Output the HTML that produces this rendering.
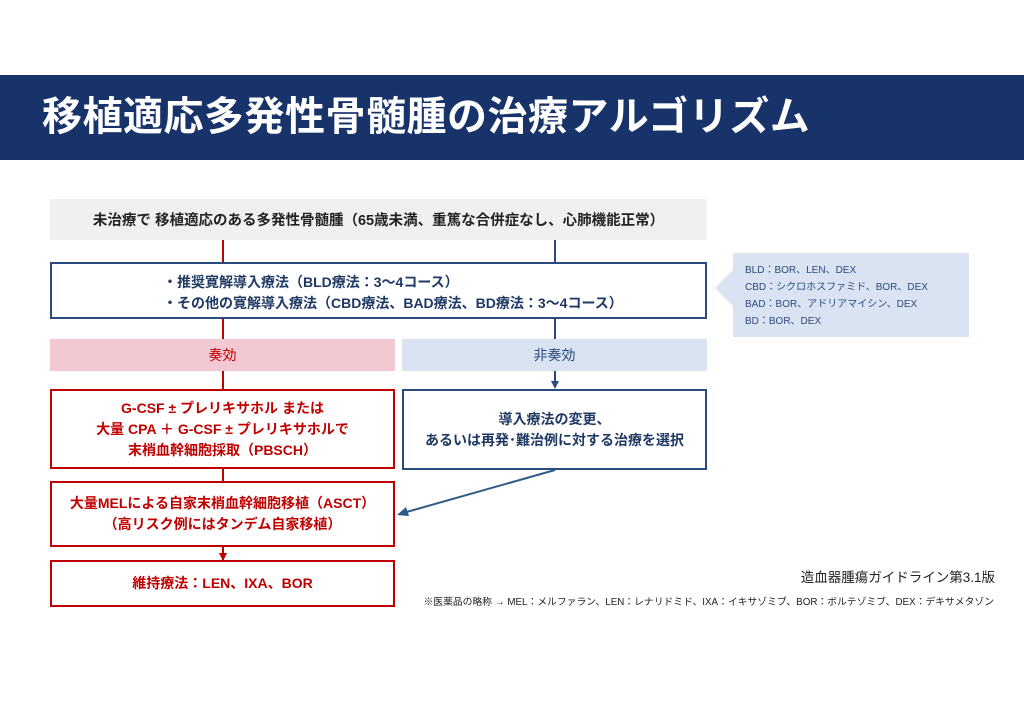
<!DOCTYPE html>
<html><head><meta charset="utf-8"><style>
body{margin:0;width:1024px;height:724px;background:#fff;position:relative;overflow:hidden;font-family:"Liberation Sans","Noto Sans CJK JP",sans-serif}
.a{position:absolute;box-sizing:border-box}
.c{display:flex;align-items:center;justify-content:center;text-align:center;flex-direction:column}
.r{color:#c00000;font-weight:bold;font-size:14px;line-height:21px}
.b{color:#1f3864;font-weight:bold;font-size:13.5px;line-height:21px}
</style></head><body>
<div class="a" style="left:0;top:75px;width:1024px;height:85px;background:#18336a"></div>
<div class="a" style="left:42px;top:92px;color:#fff;font-weight:bold;font-size:40px;line-height:50px;letter-spacing:0.5px">移植適応多発性骨髄腫の治療アルゴリズム</div>

<svg class="a" style="left:0;top:0" width="1024" height="724">
<line x1="223" y1="240" x2="223" y2="560" stroke="#c00000" stroke-width="2"/>
<line x1="555" y1="240" x2="555" y2="386" stroke="#2b4a7e" stroke-width="2"/>
<polygon points="551,381 559,381 555,389" fill="#2b4a7e"/>
<polygon points="219,553 227,553 223,561" fill="#c00000"/>
<line x1="555" y1="470" x2="403" y2="513" stroke="#2e5a8a" stroke-width="2"/>
<polygon points="397,515 406,507 409,516" fill="#2e5a8a"/>
<polygon points="733,270 715,288 733,306" fill="#dae3f1"/>
</svg>

<div class="a c" style="left:50px;top:199px;width:657px;height:41px;background:#f0f0f0;font-weight:bold;font-size:14.5px;color:#222">未治療で 移植適応のある多発性骨髄腫（65歳未満、重篤な合併症なし、心肺機能正常）</div>
<div class="a b" style="left:50px;top:262px;width:657px;height:57px;border:2px solid #2b4a7e;background:#fff;padding:8px 0 0 111px;font-size:14px">・推奨寛解導入療法（BLD療法：3～4コース）<br>・その他の寛解導入療法（CBD療法、BAD療法、BD療法：3～4コース）</div>
<div class="a c" style="left:50px;top:339px;width:345px;height:32px;background:#f2c9d2;color:#c00000;font-size:14px">奏効</div>
<div class="a c" style="left:402px;top:339px;width:305px;height:32px;background:#dae3f1;color:#2b4a7e;font-size:14px">非奏効</div>
<div class="a c r" style="left:50px;top:389px;width:345px;height:80px;border:2px solid #c00000;background:#fff">G-CSF ± プレリキサホル または<br>大量 CPA ＋ G-CSF ± プレリキサホルで<br>末梢血幹細胞採取（PBSCH）</div>
<div class="a c b" style="left:402px;top:389px;width:305px;height:81px;border:2px solid #2b4a7e;background:#fff;font-size:14px">導入療法の変更、<br>あるいは再発･難治例に対する治療を選択</div>
<div class="a c r" style="left:50px;top:481px;width:345px;height:66px;border:2px solid #c00000;background:#fff">大量MELによる自家末梢血幹細胞移植（ASCT）<br>（高リスク例にはタンデム自家移植）</div>
<div class="a c r" style="left:50px;top:560px;width:345px;height:47px;border:2px solid #c00000;background:#fff">維持療法：LEN、IXA、BOR</div>
<div class="a" style="left:733px;top:253px;width:236px;height:84px;background:#dae3f1;color:#2b4a7e;font-size:10px;line-height:17px;padding:9px 0 0 12px">BLD：BOR、LEN、DEX<br>CBD：シクロホスファミド、BOR、DEX<br>BAD：BOR、アドリアマイシン、DEX<br>BD：BOR、DEX</div>
<div class="a" style="right:29px;top:566px;font-size:13.5px;color:#222">造血器腫瘍ガイドライン第3.1版</div>
<div class="a" style="right:30px;top:594px;font-size:9.8px;color:#222;white-space:nowrap">※医薬品の略称 → MEL：メルファラン、LEN：レナリドミド、IXA：イキサゾミブ、BOR：ボルテゾミブ、DEX：デキサメタゾン</div>
</body></html>
